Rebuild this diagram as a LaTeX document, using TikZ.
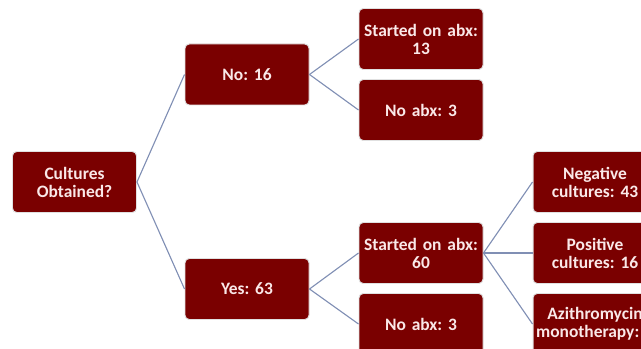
\documentclass[tikz,border=0pt]{standalone}
\usepackage{fontspec}
\setmainfont{Carlito}
\usetikzlibrary{arrows}
\definecolor{boxred}{RGB}{122,0,0}
\definecolor{linkblue}{RGB}{128,143,180}
\definecolor{boxtext}{RGB}{250,232,232}
\frenchspacing

\begin{document}
\begin{tikzpicture}[thick,
  box/.style={rectangle, rounded corners=3pt, fill=boxred, draw=black!12, line width=0.7pt,
    minimum width=3.1cm, minimum height=1.525cm, text width=3cm, align=center, inner sep=0pt,
    text=boxtext, font=\fontsize{12.4}{12.8}\selectfont\bfseries},
  link/.style={draw=linkblue, line width=0.8pt}]

\useasboundingbox (0,0) rectangle (16.025,-8.725);
\clip (0,0) rectangle (16.025,-8.725);

\node[box] (cult) at (1.8625,-4.55) {Cultures\\Obtained?};
\node[box] (no) at (6.175,-1.8625) {No: 16};
\node[box] (yes) at (6.175,-7.225) {Yes: 63};
\node[box] (abxno) at (10.525,-0.975) {Started on abx:\\13};
\node[box] (noabxno) at (10.525,-2.75) {No abx: 3};
\node[box] (abxyes) at (10.525,-6.325) {Started on abx:\\60};
\node[box] (noabxyes) at (10.525,-8.1) {No abx: 3};
\node[box] (neg) at (14.875,-4.55) {Negative\\cultures: 43};
\node[box] (pos) at (14.875,-6.325) {Positive\\cultures: 16};
\node[box] (azi) at (14.875,-8.1) {Azithromycin\\monotherapy:\phantom{ 0}};

\draw[link] (cult.east) -- (no.west);
\draw[link] (cult.east) -- (yes.west);
\draw[link] (no.east) -- (abxno.west);
\draw[link] (no.east) -- (noabxno.west);
\draw[link] (yes.east) -- (abxyes.west);
\draw[link] (yes.east) -- (noabxyes.west);
\draw[link] (abxyes.east) -- (neg.west);
\draw[link] (abxyes.east) -- (pos.west);
\draw[link] (abxyes.east) -- (azi.west);

\end{tikzpicture}
\end{document}
